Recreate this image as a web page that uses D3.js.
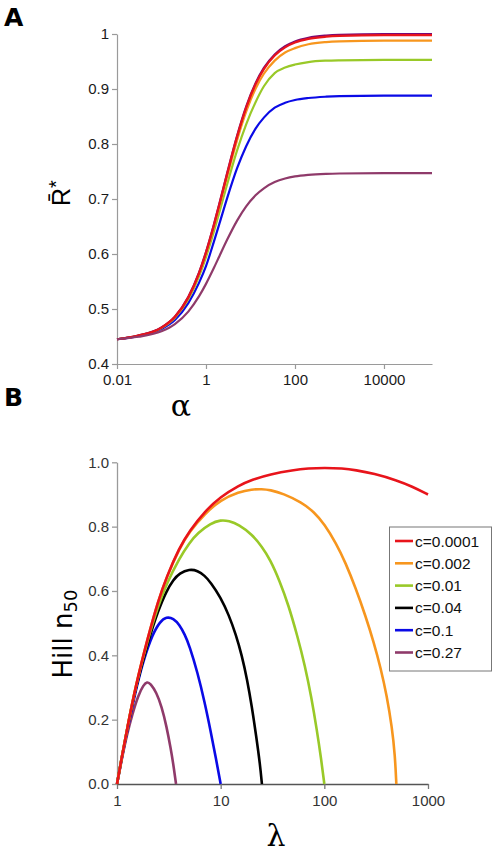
<!DOCTYPE html>
<html>
<head>
<meta charset="utf-8">
<script src="https://cdn.jsdelivr.net/npm/d3@7"></script>
<style>
  html, body { margin: 0; padding: 0; background: #fff; }
  svg { display: block; }
  text { font-family: "Liberation Sans", Arial, sans-serif; }
</style>
</head>
<body>
<svg id="chart" width="498" height="855"></svg>
<script>
// ---------- Panel A data ----------
const alphaTicks = [0.01, 1, 100, 10000];
const alphaTickLabels = ["0.01", "1", "100", "10000"];
const rTicks = [0.4, 0.5, 0.6, 0.7, 0.8, 0.9, 1];
const rTickLabels = ["0.4", "0.5", "0.6", "0.7", "0.8", "0.9", "1"];

const alphaGrid = [0.01, 0.03, 0.1, 0.2, 0.4, 0.7, 1, 1.5, 2, 3, 5, 8, 13, 20, 35, 60, 100, 200, 500, 1000, 10000, 120000];
const rPurple = [0.445, 0.4516, 0.4664, 0.4861, 0.5216, 0.5664, 0.6036, 0.6531, 0.6917, 0.7477, 0.815, 0.868, 0.9105, 0.9383, 0.9629, 0.9778, 0.9865, 0.9932, 0.9972, 0.9986, 1.0, 1.0];
const rRed    = [0.445, 0.4515, 0.4662, 0.4858, 0.5212, 0.5658, 0.6029, 0.6522, 0.6906, 0.7463, 0.8134, 0.8662, 0.9085, 0.9362, 0.9608, 0.9757, 0.9844, 0.9911, 0.9951, 0.9965, 0.998, 0.998];
const rOrange = [0.445, 0.4514, 0.4659, 0.4852, 0.5199, 0.5639, 0.6001, 0.6486, 0.6863, 0.7411, 0.807, 0.8587, 0.9006, 0.9277, 0.9516, 0.9663, 0.9743, 0.9813, 0.9853, 0.9866, 0.988, 0.988];
const rGreen  = [0.445, 0.4513, 0.4653, 0.4841, 0.5176, 0.5597, 0.5944, 0.6404, 0.6759, 0.7272, 0.7883, 0.8358, 0.876, 0.905, 0.929, 0.939, 0.9445, 0.949, 0.9515, 0.9522, 0.953, 0.953];
const rBlue   = [0.445, 0.4508, 0.4636, 0.480, 0.5106, 0.548, 0.578, 0.622, 0.655, 0.702, 0.756, 0.796, 0.828, 0.848, 0.866, 0.875, 0.880, 0.8836, 0.886, 0.887, 0.888, 0.888];
const rMauve  = [0.445, 0.4495, 0.4594, 0.4725, 0.4953, 0.5233, 0.5457, 0.5744, 0.596, 0.6262, 0.6607, 0.6866, 0.7067, 0.7195, 0.7307, 0.7372, 0.7411, 0.744, 0.7458, 0.7464, 0.747, 0.747];

// ---------- Panel B data ----------
const lambdaTicks = [1, 10, 100, 1000];
const lambdaTickLabels = ["1", "10", "100", "1000"];
const nTicks = [0, 0.2, 0.4, 0.6, 0.8, 1.0];
const nTickLabels = ["0.0", "0.2", "0.4", "0.6", "0.8", "1.0"];

const legendLabels = ["c=0.0001", "c=0.002", "c=0.01", "c=0.04", "c=0.1", "c=0.27"];

const lamRed = [1, 1.1, 1.25, 1.5, 2, 2.5, 3, 4, 5, 7, 10, 15, 20, 30, 50, 70, 100, 150, 200, 300, 500, 700, 1000];
const nRed   = [0, 0.075, 0.17, 0.3, 0.46, 0.57, 0.643, 0.735, 0.787, 0.847, 0.893, 0.928, 0.946, 0.963, 0.976, 0.981, 0.983, 0.981, 0.976, 0.965, 0.944, 0.925, 0.90];

const lamOrange = [1, 1.1, 1.25, 1.5, 2, 2.5, 3, 4, 5, 7, 10, 15, 20, 25, 30, 40, 60, 80, 100, 130, 160, 200, 250, 300, 350, 400, 450, 480, 495];
const nOrange   = [0, 0.075, 0.17, 0.3, 0.46, 0.57, 0.642, 0.733, 0.784, 0.84, 0.883, 0.908, 0.916, 0.917, 0.914, 0.903, 0.876, 0.845, 0.808, 0.748, 0.688, 0.61, 0.522, 0.44, 0.36, 0.275, 0.175, 0.09, 0];

const lamGreen = [1, 1.1, 1.25, 1.5, 2, 2.5, 3, 4, 5, 6, 8, 10, 12, 15, 20, 25, 30, 37, 45, 55, 65, 75, 85, 93, 100];
const nGreen   = [0, 0.075, 0.17, 0.3, 0.455, 0.555, 0.622, 0.702, 0.75, 0.78, 0.81, 0.821, 0.818, 0.806, 0.776, 0.738, 0.698, 0.632, 0.557, 0.46, 0.368, 0.27, 0.165, 0.08, 0];

const lamBlack = [1, 1.1, 1.25, 1.5, 2, 2.5, 3, 3.5, 4, 5, 6, 7, 8, 10, 12, 14, 16, 18, 20, 22, 24, 25];
const nBlack   = [0, 0.075, 0.17, 0.295, 0.445, 0.54, 0.6, 0.635, 0.655, 0.668, 0.663, 0.648, 0.627, 0.58, 0.525, 0.465, 0.4, 0.325, 0.24, 0.15, 0.06, 0];

const lamBlue = [1, 1.1, 1.25, 1.5, 1.8, 2.2, 2.6, 3, 3.5, 4, 4.5, 5, 6, 7, 8, 9, 10];
const nBlue   = [0, 0.072, 0.165, 0.285, 0.385, 0.465, 0.505, 0.52, 0.515, 0.495, 0.465, 0.43, 0.345, 0.255, 0.165, 0.08, 0];

const lamMauve = [1, 1.1, 1.25, 1.4, 1.6, 1.8, 1.95, 2.1, 2.4, 2.7, 3, 3.3, 3.5, 3.71];
const nMauve   = [0, 0.07, 0.155, 0.215, 0.275, 0.308, 0.318, 0.313, 0.285, 0.24, 0.18, 0.11, 0.06, 0];

// ---------- colours ----------
const colRed = "#e8141b", colOrange = "#f7961e", colGreen = "#99c928",
      colBlack = "#000000", colBlue = "#0a0ae6", colMauve = "#8f3a6a", colPurple = "#7a0a74";

const svg = d3.select("#chart");

// ===== Panel A =====
const xA = d3.scaleLog().domain([0.01, 1.2e5]).range([117, 432]);
const yA = d3.scaleLinear().domain([0.4, 1]).range([364, 34]);

const gA = svg.append("g");
const axA_y = gA.append("g").attr("transform", "translate(117,0)")
  .call(d3.axisLeft(yA).tickValues(rTicks).tickFormat((d, i) => rTickLabels[i]).tickSize(5).tickSizeOuter(0).tickPadding(3));
const axA_x = gA.append("g").attr("transform", "translate(0,364)")
  .call(d3.axisBottom(xA).tickValues(alphaTicks).tickFormat((d, i) => alphaTickLabels[i]).tickSize(5).tickSizeOuter(0).tickPadding(5));

[axA_y, axA_x].forEach(ax => {
  ax.select(".domain").attr("stroke", "#9a9a9a").attr("stroke-width", 1.2);
  ax.selectAll(".tick line").attr("stroke", "#9a9a9a").attr("stroke-width", 1.2);
  ax.selectAll(".tick text").attr("fill", "#1a1a1a").style("font-size", "15px")
    .style("font-family", '"Liberation Sans", Arial, sans-serif');
});

const lineA = (xs, ys) => d3.line().curve(d3.curveMonotoneX)
  .x((d, i) => xA(xs[i])).y((d, i) => yA(ys[i]))(xs);

const seriesA = [
  [rBlue, colBlue],
  [rGreen, colGreen],
  [rOrange, colOrange],
  [rPurple, colPurple],
  [rRed, colRed],
  [rMauve, colMauve]
];
seriesA.forEach(([ys, c]) => {
  gA.append("path").attr("d", lineA(alphaGrid, ys)).attr("fill", "none")
    .attr("stroke", c).attr("stroke-width", 2.2).attr("stroke-linejoin", "round");
});

svg.append("text").attr("x", 4).attr("y", 26).text("A")
  .style("font-size", "25px").style("font-weight", "bold")
  .style("font-family", '"DejaVu Sans", sans-serif').attr("fill", "#000");

// y label R̄*
const rl = svg.append("text").attr("transform", "translate(70,193) rotate(-90)")
  .attr("text-anchor", "middle").style("font-size", "25px").attr("fill", "#000");
rl.append("tspan").text("R\u0304");
rl.append("tspan").text("*").attr("dy", "-0.35em").style("font-size", "20px");

svg.append("text").attr("x", 181).attr("y", 416).attr("text-anchor", "middle")
  .style("font-size", "30px").style("font-family", '"DejaVu Serif", serif').attr("fill", "#000").text("α");

// ===== Panel B =====
const xB = d3.scaleLog().domain([1, 1000]).range([117, 428]);
const yB = d3.scaleLinear().domain([0, 1]).range([784, 462.3]);

const gB = svg.append("g");
const axB_y = gB.append("g").attr("transform", "translate(117,0)")
  .call(d3.axisLeft(yB).tickValues(nTicks).tickFormat((d, i) => nTickLabels[i]).tickSize(5).tickSizeOuter(0).tickPadding(3));
const axB_x = gB.append("g").attr("transform", "translate(0,784)")
  .call(d3.axisBottom(xB).tickValues(lambdaTicks).tickFormat((d, i) => lambdaTickLabels[i]).tickSize(5).tickSizeOuter(0).tickPadding(6));

axB_y.select(".domain").attr("stroke", "#9a9a9a").attr("stroke-width", 1.3);
axB_y.selectAll(".tick line").attr("stroke", "#9a9a9a").attr("stroke-width", 1.3);
axB_x.select(".domain").attr("stroke", "#555").attr("stroke-width", 1.3);
axB_x.selectAll(".tick line").attr("stroke", "#777").attr("stroke-width", 1.3);
[axB_y, axB_x].forEach(ax => {
  ax.selectAll(".tick text").attr("fill", "#333").style("font-size", "15px")
    .style("font-family", '"Liberation Sans", Arial, sans-serif');
});

const lineB = (xs, ys) => d3.line().curve(d3.curveBasis)
  .x((d, i) => xB(xs[i])).y((d, i) => yB(ys[i]))(xs);

const seriesB = [
  [lamMauve, nMauve, colMauve],
  [lamBlue, nBlue, colBlue],
  [lamBlack, nBlack, colBlack],
  [lamGreen, nGreen, colGreen],
  [lamOrange, nOrange, colOrange],
  [lamRed, nRed, colRed]
];
seriesB.forEach(([xs, ys, c]) => {
  gB.append("path").attr("d", lineB(xs, ys)).attr("fill", "none")
    .attr("stroke", c).attr("stroke-width", 2.6).attr("stroke-linejoin", "round");
});

svg.append("text").attr("x", 4).attr("y", 406).text("B")
  .style("font-size", "25px").style("font-weight", "bold")
  .style("font-family", '"DejaVu Sans", sans-serif').attr("fill", "#000");

const hl = svg.append("text").attr("transform", "translate(72,634) rotate(-90)")
  .attr("text-anchor", "middle").style("font-size", "26px").style("font-family", '"DejaVu Sans", Verdana, sans-serif').attr("fill", "#000");
hl.append("tspan").text("Hill n");
hl.append("tspan").text("50").attr("dy", "0.3em").style("font-size", "18px");

svg.append("text").attr("x", 276).attr("y", 846).attr("text-anchor", "middle")
  .style("font-size", "30px").style("font-family", '"DejaVu Serif", serif').attr("fill", "#000").text("λ");

// legend
const leg = svg.append("g");
leg.append("rect").attr("x", 389.5).attr("y", 527).attr("width", 102).attr("height", 144)
  .attr("fill", "#fff").attr("stroke", "#777").attr("stroke-width", 1);
const legCols = [colRed, colOrange, colGreen, colBlack, colBlue, colMauve];
legendLabels.forEach((lab, i) => {
  const y = 541 + i * 22.3;
  leg.append("line").attr("x1", 395).attr("x2", 413).attr("y1", y).attr("y2", y)
    .attr("stroke", legCols[i]).attr("stroke-width", 2.6);
  leg.append("text").attr("x", 415).attr("y", y).attr("dy", "0.36em")
    .style("font-size", "15.5px").attr("fill", "#111").text(lab);
});
</script>
</body>
</html>
